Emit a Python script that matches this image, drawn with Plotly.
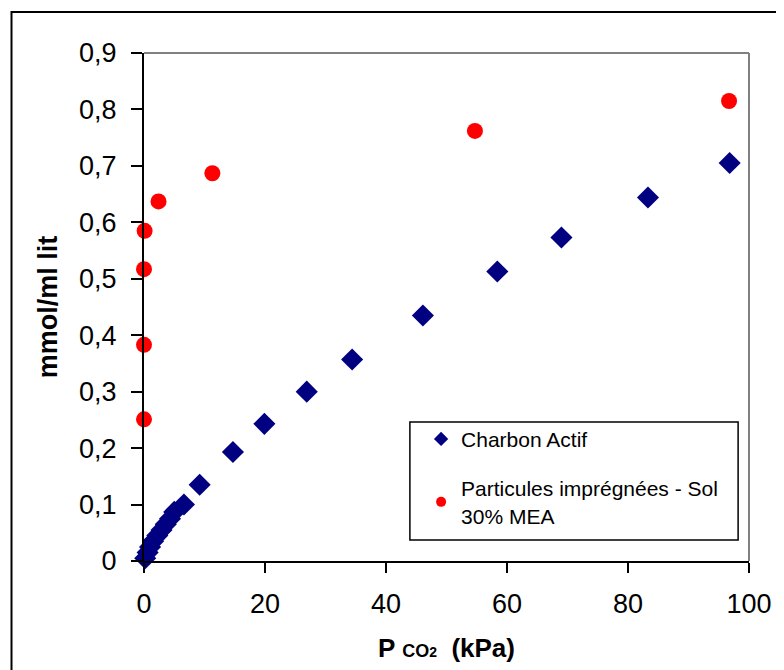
import plotly.graph_objects as go

# Charbon Actif (blue diamonds)
charbon_x = [0.2, 0.6, 1.0, 1.5, 2.2, 2.9, 3.6, 4.3, 5.0, 6.6, 9.2, 14.7, 19.9, 26.9, 34.4, 46.1, 58.4, 69.0, 83.3, 96.8]
charbon_y = [0.005, 0.015, 0.025, 0.035, 0.045, 0.055, 0.065, 0.075, 0.087, 0.100, 0.135, 0.193, 0.243, 0.300, 0.357, 0.435, 0.513, 0.573, 0.644, 0.705]

# Particules imprégnées - Sol 30% MEA (red circles)
mea_x = [0.0, 0.0, 0.0, 0.1, 2.4, 11.3, 54.7, 96.7]
mea_y = [0.251, 0.383, 0.517, 0.585, 0.637, 0.687, 0.762, 0.815]

x_ticks = [0, 20, 40, 60, 80, 100]
y_ticks = [0, 0.1, 0.2, 0.3, 0.4, 0.5, 0.6, 0.7, 0.8, 0.9]

NAVY = "#000080"
RED = "#ff0000"
FONT = "Liberation Sans, Arial, sans-serif"

fig = go.Figure()
fig.add_trace(go.Scatter(x=charbon_x, y=charbon_y, mode="markers", showlegend=False,
                         marker=dict(symbol="diamond", size=17, color=NAVY), cliponaxis=False))
fig.add_trace(go.Scatter(x=mea_x, y=mea_y, mode="markers", showlegend=False,
                         marker=dict(symbol="circle", size=16, color=RED), cliponaxis=False))
# legend entries
fig.add_trace(go.Scatter(x=[None], y=[None], mode="markers", name="Charbon Actif", legendgroup="a",
                         marker=dict(symbol="diamond", size=11, color=NAVY)))
fig.add_trace(go.Scatter(x=[None], y=[None], mode="markers", name="Particules imprégnées - Sol<br>30% MEA",
                         legendgroup="b", marker=dict(symbol="circle", size=10, color=RED)))

# page body has an 8px margin; compensate so the plot area lands at 144..756 x 53..561
fig.update_layout(
    width=776, height=662,
    margin=dict(l=136, r=28, t=45, b=109),
    paper_bgcolor="white", plot_bgcolor="white",
    separators=", ",
    font=dict(family=FONT, color="black"),
    showlegend=True,
    legend=dict(x=0.458, y=0.28, xanchor="left", yanchor="top", bgcolor="rgba(0,0,0,0)",
                borderwidth=0, font=dict(size=21, family=FONT), tracegroupgap=19,
                traceorder="grouped", itemsizing="trace"),
    xaxis=dict(range=[0, 100], tickvals=x_ticks, showgrid=False, zeroline=False,
               showline=True, linecolor="black", linewidth=2, ticks="outside", ticklen=10,
               tickwidth=2, tickcolor="black", tickfont=dict(size=27, family=FONT),
               ticklabelstandoff=8,
               title=dict(text="<b>P <span style='font-size:18px'>CO</span><span style='font-size:14px'>2</span>  (kPa)</b>",
                          font=dict(size=26, family=FONT), standoff=20)),
    yaxis=dict(range=[0, 0.9], tickvals=y_ticks, showgrid=False, zeroline=False,
               showline=True, linecolor="black", linewidth=2, ticks="outside", ticklen=11,
               tickwidth=2, tickcolor="black", tickfont=dict(size=27, family=FONT),
               ticklabelstandoff=9,
               title=dict(text="<b>mmol/ml lit</b>", font=dict(size=27, family=FONT), standoff=14)),
    shapes=[
        # grey top/right plot border
        dict(type="line", xref="paper", yref="paper", x0=0, x1=1, y0=1, y1=1,
             line=dict(color="#808080", width=2)),
        dict(type="line", xref="paper", yref="paper", x0=1, x1=1, y0=0, y1=1,
             line=dict(color="#808080", width=2)),
        # outer chart frame
        dict(type="rect", xref="paper", yref="paper", x0=-0.219, x1=1.3, y0=-0.5, y1=1.0807,
             line=dict(color="black", width=2), fillcolor="rgba(0,0,0,0)"),
        # legend box
        dict(type="rect", xref="paper", yref="paper", x0=0.4395, x1=0.982, y0=0.0413, y1=0.2736,
             line=dict(color="black", width=1.5), fillcolor="rgba(0,0,0,0)"),
    ],
)

fig.write_html("out.html")
